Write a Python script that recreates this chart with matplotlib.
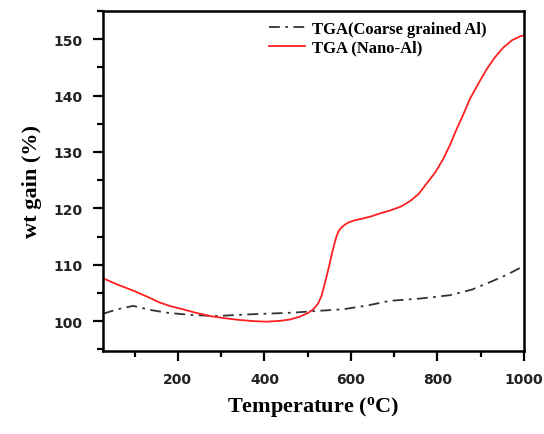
import matplotlib
matplotlib.use("Agg")
import matplotlib.pyplot as plt
from matplotlib.ticker import MultipleLocator

plt.rcParams['mathtext.fontset'] = 'custom'
plt.rcParams['mathtext.rm'] = 'Liberation Serif:bold'
plt.rcParams['mathtext.it'] = 'Liberation Serif:bold'
plt.rcParams['mathtext.bf'] = 'Liberation Serif:bold'

# Data
coarse_T = [27, 60, 97, 135, 174, 228, 289, 366, 466, 520, 582, 640, 690, 760, 829, 880, 921, 960, 1000]
coarse_wt = [101.3, 102.1, 102.7, 102.0, 101.5, 101.1, 100.9, 101.2, 101.5, 101.8, 102.1, 102.8, 103.6, 104.0, 104.6, 105.6, 106.9, 108.2, 109.8]

nano_T = [27, 60, 97, 130, 158, 185, 212, 240, 274, 310, 343, 375, 405, 436, 460, 482, 500, 513, 524, 532,
          538, 544, 550, 555, 561, 567, 572, 578, 586, 594, 610, 628, 648, 667, 690, 715,
          737, 757, 775, 795, 813, 830, 844, 860, 875, 895, 914, 933, 952, 972, 991, 1000]
nano_wt = [107.6, 106.5, 105.4, 104.3, 103.3, 102.6, 102.1, 101.5, 100.9, 100.5, 100.2, 100.0, 99.9, 100.05, 100.3, 100.8, 101.4, 102.1, 103.1, 104.5,
           106.2, 108.0, 109.9, 111.6, 113.5, 115.1, 116.0, 116.6, 117.1, 117.5, 117.9, 118.2, 118.6, 119.1, 119.6, 120.3,
           121.3, 122.6, 124.4, 126.4, 128.7, 131.4, 134.0, 136.7, 139.4, 142.2, 144.7, 146.8, 148.5, 149.8, 150.5, 150.7]

legend_labels = ["TGA(Coarse grained Al)", "TGA (Nano-Al)"]
x_ticks = [200, 400, 600, 800, 1000]
y_ticks = [100, 110, 120, 130, 140, 150]

fig = plt.figure(figsize=(5.44, 4.35), dpi=100)
ax = fig.add_axes([103/544, 1 - 352/435, (524 - 103)/544, (352 - 12)/435])

ax.plot(coarse_T, coarse_wt, color='#333333', lw=1.3, linestyle=(0, (6, 3, 1.5, 3)), label=legend_labels[0])
ax.plot(nano_T, nano_wt, color='#ff2020', lw=1.3, label=legend_labels[1])

ax.set_xlim(27, 1000)
ax.set_ylim(94.7, 155)
ax.set_xticks(x_ticks)
ax.set_yticks(y_ticks)
ax.xaxis.set_minor_locator(MultipleLocator(100))
ax.yaxis.set_minor_locator(MultipleLocator(5))

for s in ax.spines.values():
    s.set_linewidth(1.8)
ax.tick_params(which='major', direction='out', length=7, width=1.6, labelsize=10, pad=8)
ax.tick_params(which='minor', direction='out', length=4, width=1.6)
for lab in ax.get_xticklabels() + ax.get_yticklabels():
    lab.set_fontweight('bold')
    lab.set_family('DejaVu Sans')
    lab.set_color('#222222')

ax.set_xlabel(r'Temperature ($^{\mathrm{o}}$C)', fontsize=16, fontweight='bold', family='Liberation Serif', labelpad=6)
ax.set_ylabel('wt gain (%)', fontsize=16, fontweight='bold', family='Liberation Serif', labelpad=8)

leg = ax.legend(loc='upper left', bbox_to_anchor=(0.37, 1.0), frameon=False,
                prop={'family': 'Liberation Serif', 'weight': 'bold', 'size': 12},
                handlelength=2.2, handletextpad=0.4, labelspacing=0.15, borderaxespad=0.2)

fig.savefig('out.png', dpi=100)
